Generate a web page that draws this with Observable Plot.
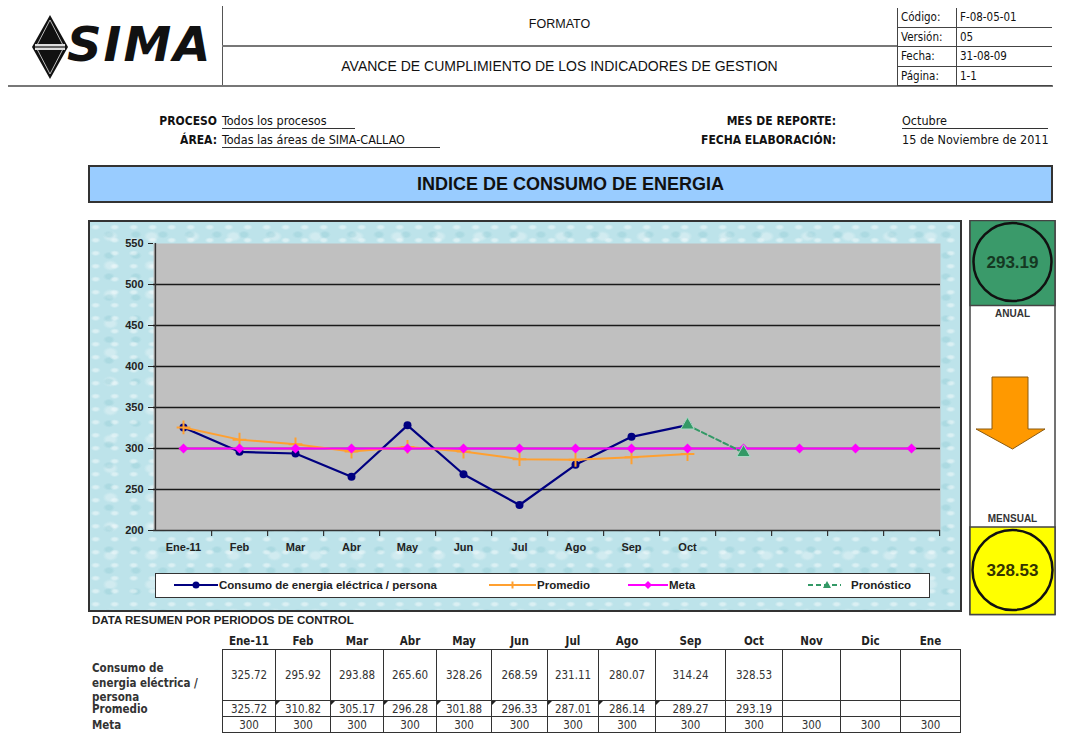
<!DOCTYPE html>
<html><head><meta charset="utf-8">
<script src="https://cdn.jsdelivr.net/npm/d3@7"></script>
<script src="https://cdn.jsdelivr.net/npm/@observablehq/plot@0.6"></script>
<style>
html,body{margin:0;padding:0;background:#fff;}
#page{position:relative;width:1071px;height:745px;overflow:hidden;font-family:"Liberation Sans",Arial,sans-serif;color:#111;}
.abs{position:absolute;}
.narrow{font-family:"Liberation Sans Narrow","Arial Narrow","DejaVu Sans Condensed",sans-serif;}
.lbl{font-weight:bold;font-size:12px;white-space:nowrap;}
.val{font-size:12.5px;white-space:nowrap;}
.uline{position:absolute;height:1px;background:#333;}
#codes{border-collapse:collapse;font-size:11.5px;}
#codes td{height:18.5px;padding:0 0 0 3px;border-bottom:1px solid #444;border-left:1px solid #444;line-height:16px;}
#tabla{border-collapse:collapse;table-layout:fixed;font-size:11.5px;}
#tabla td{text-align:center;padding:0;border:1px solid #333;color:#333;}
#tabla th{font-weight:bold;font-size:11.5px;height:17px;padding:0;border:none;color:#222;}
#tabla td.flag{position:relative;}
#tabla td.flag::before{content:"";position:absolute;left:0;top:0;border-top:4px solid #222;border-right:4px solid transparent;}
#frame{background-color:#bde3ea;
  background-image:
    radial-gradient(ellipse at 30% 40%, rgba(255,255,255,.45) 0 2px, transparent 5px),
    radial-gradient(ellipse at 70% 60%, rgba(140,200,210,.35) 0 3px, transparent 6px),
    radial-gradient(ellipse at 50% 50%, rgba(255,255,255,.3) 0 4px, transparent 8px);
  background-size:19px 13px, 27px 21px, 41px 29px;}
#legend{position:absolute;left:155px;top:573px;width:775px;height:25px;background:#fff;border:1.5px solid #333;box-sizing:border-box;font-weight:bold;font-size:11.5px;color:#222;}
#legend .it{position:absolute;top:0;height:22px;display:flex;align-items:center;white-space:nowrap;}
</style></head>
<body><div id="page">

<!-- logo -->
<svg class="abs" style="left:30px;top:14px" width="40" height="66">
  <polygon points="20,1 38,33 20,65 2,33" fill="#111"/>
  <polygon points="20,6 34,33 20,60 6,33" fill="none" stroke="#bbb" stroke-width="1"/>
  <rect x="5" y="30" width="30" height="6" fill="#ddd"/>
  <line x1="5" y1="33" x2="35" y2="33" stroke="#111" stroke-width="1.2"/>
</svg>
<div class="abs" style="left:67px;top:20px;font-family:'DejaVu Sans',sans-serif;font-weight:bold;font-style:italic;font-size:48px;line-height:48px;letter-spacing:2px;color:#111;">SIMA</div>

<div class="abs" style="left:222px;top:6px;width:1px;height:80px;background:#555"></div>
<div class="abs" style="left:222px;top:45px;width:675px;height:2px;background:#777"></div>
<div class="abs" style="left:8px;top:85px;width:1045px;height:2px;background:#777"></div>
<div class="abs" style="left:222px;top:17px;width:675px;text-align:center;font-size:12.5px;">FORMATO</div>
<div class="abs" style="left:222px;top:58px;width:675px;text-align:center;font-size:14px;">AVANCE DE CUMPLIMIENTO DE LOS INDICADORES DE GESTION</div>
<table id="codes" class="abs narrow" style="left:897px;top:8px;">
  <tr><td style="width:55px">Código:</td><td style="width:92px">F-08-05-01</td></tr>
  <tr><td>Versión:</td><td>05</td></tr>
  <tr><td>Fecha:</td><td>31-08-09</td></tr>
  <tr><td>Página:</td><td>1-1</td></tr>
</table>

<!-- info -->
<div class="abs lbl narrow" style="right:854px;top:114px;">PROCESO</div>
<div class="abs val narrow" style="left:222px;top:113px;">Todos los procesos</div>
<div class="uline" style="left:222px;top:128px;width:133px"></div>
<div class="abs lbl narrow" style="right:854px;top:133px;">ÁREA:</div>
<div class="abs val narrow" style="left:222px;top:132px;">Todas las áreas de SIMA-CALLAO</div>
<div class="uline" style="left:222px;top:147px;width:218px"></div>
<div class="abs lbl narrow" style="right:235px;top:114px;">MES DE REPORTE:</div>
<div class="abs lbl narrow" style="right:235px;top:133px;">FECHA ELABORACIÓN:</div>
<div class="abs val narrow" style="left:902px;top:113px;">Octubre</div>
<div class="uline" style="left:902px;top:128px;width:146px"></div>
<div class="abs val narrow" style="left:902px;top:132px;">15 de Noviembre de 2011</div>

<!-- title bar -->
<div class="abs" style="left:88px;top:165px;width:965px;height:38px;background:#99ccff;border:2px solid #333;box-sizing:border-box;display:flex;align-items:center;justify-content:center;font-weight:bold;font-size:18px;color:#111;">INDICE DE CONSUMO DE ENERGIA</div>

<!-- chart frame -->
<div id="frame" class="abs" style="left:88px;top:220px;width:874px;height:392px;border:2px solid #333;box-sizing:border-box;"></div>
<div id="chart" class="abs" style="left:88px;top:220px;"></div>
<div id="legend"></div>

<!-- right panel -->
<svg id="panel" class="abs" style="left:969px;top:220px" width="88" height="396"></svg>

<!-- table -->
<div class="abs" style="left:92px;top:614px;font-weight:bold;font-size:11.5px;color:#222;">DATA RESUMEN POR PERIODOS DE CONTROL</div>
<div class="abs lbl narrow" style="left:92px;top:661px;line-height:14.5px;font-size:11.5px;color:#333">Consumo de<br>energia eléctrica /<br>persona</div>
<div class="abs lbl narrow" style="left:92px;top:702px;font-size:11.5px;color:#333">Promedio</div>
<div class="abs lbl narrow" style="left:92px;top:718px;font-size:11.5px;color:#333">Meta</div>
<table id="tabla" class="abs narrow" style="left:222px;top:632px;"></table>

</div>
<script>
// ---- data ----
const meses = ["Ene-11","Feb","Mar","Abr","May","Jun","Jul","Ago","Sep","Oct","Nov","Dic","Ene"];
const etiquetasEje = ["Ene-11","Feb","Mar","Abr","May","Jun","Jul","Ago","Sep","Oct","","","",""];
const consumo = [325.72,295.92,293.88,265.60,328.26,268.59,231.11,280.07,314.24,328.53];
const promedio = [325.72,310.82,305.17,296.28,301.88,296.33,287.01,286.14,289.27,293.19];
const meta = [300,300,300,300,300,300,300,300,300,300,300,300,300,300];
const pronostico = [null,null,null,null,null,null,null,null,null,328.53,295,null,null,null];
const yTicks = [200,250,300,350,400,450,500,550];
const leyenda = ["Consumo de energia eléctrica / persona","Promedio","Meta","Pronóstico"];
const indicadorAnual = promedio[promedio.length-1];
const indicadorMensual = consumo[consumo.length-1];

// ---- chart ----
const W = 874, H = 392, ml = 65, mr = 22, mt = 23, mb = 82;
const step = (W - ml - mr) / etiquetasEje.length;
const pts = a => a.map((v,i)=>({i, v})).filter(d => d.v != null);
const C = pts(consumo), P = pts(promedio), M = pts(meta), F = pts(pronostico);
const colors = {consumo:"#000080", promedio:"#ffa030", meta:"#ff00ff", pron:"#339966"};

const chart = Plot.plot({
  width: W, height: H,
  marginLeft: ml, marginRight: mr, marginTop: mt, marginBottom: mb,
  style: {background:"transparent", fontFamily:"'Liberation Sans',Arial,sans-serif", fontWeight:"bold", fontSize:"11px", color:"#222", overflow:"visible"},
  x: {type:"point", domain: d3.range(etiquetasEje.length), padding:0.5, tickSize:0, tickPadding:13, tickFormat: i => etiquetasEje[i], label:null},
  y: {domain:[yTicks[0], yTicks[yTicks.length-1]], ticks: yTicks, tickSize:5, tickPadding:5, label:null},
  marks: [
    Plot.frame({fill:"#c0c0c0", stroke:null}),
    Plot.ruleY(yTicks.slice(1,-1), {stroke:"#1a1a1a", strokeWidth:1.3}),
    Plot.ruleY([yTicks[0]], {stroke:"#333", strokeWidth:1.5}),
    Plot.ruleX([0], {dx:-step/2, stroke:"#333", strokeWidth:1.5}),
    Plot.ruleX(d3.range(etiquetasEje.length), {x:d=>d, dx:step/2, y1:yTicks[0], y2:yTicks[0], insetBottom:-6, stroke:"#333", strokeWidth:1.2}),
    Plot.line(C, {x:"i", y:"v", stroke:colors.consumo, strokeWidth:2.2}),
    Plot.dot(C, {x:"i", y:"v", r:4, fill:colors.consumo}),
    Plot.line(P, {x:"i", y:"v", stroke:colors.promedio, strokeWidth:2}),
    Plot.dot(P, {x:"i", y:"v", symbol:"plus", r:4.5, stroke:colors.promedio, strokeWidth:2}),
    Plot.line(M, {x:"i", y:"v", stroke:colors.meta, strokeWidth:2}),
    Plot.dot(M, {x:"i", y:"v", symbol:"diamond2", r:4.5, fill:colors.meta}),
    Plot.line(F, {x:"i", y:"v", stroke:colors.pron, strokeWidth:2, strokeDasharray:"5,3"}),
    Plot.dot(F, {x:"i", y:"v", symbol:"triangle", r:5, fill:colors.pron, stroke:"#a8d8c4", strokeWidth:1})
  ]
});
document.getElementById("chart").appendChild(chart);

// ---- legend ----
const legendItems = [
  {left:18, w:44, txt:leyenda[0], sw:`<line x1="0" y1="6" x2="44" y2="6" stroke="${colors.consumo}" stroke-width="2"/><circle cx="22" cy="6" r="3.5" fill="${colors.consumo}"/>`},
  {left:333, w:47, txt:leyenda[1], sw:`<line x1="0" y1="6" x2="47" y2="6" stroke="${colors.promedio}" stroke-width="2"/><path d="M20,6h7M23.5,2.5v7" stroke="${colors.promedio}" stroke-width="2"/>`},
  {left:472, w:40, txt:leyenda[2], sw:`<line x1="0" y1="6" x2="40" y2="6" stroke="${colors.meta}" stroke-width="2"/><path d="M20,2l4,4l-4,4l-4,-4z" fill="${colors.meta}"/>`},
  {left:652, w:33, txt:leyenda[3], sw:`<line x1="0" y1="6" x2="33" y2="6" stroke="${colors.pron}" stroke-width="2" stroke-dasharray="5,3"/><path d="M19,2l4,7h-8z" fill="${colors.pron}"/>`}
];
const lg = document.getElementById("legend");
legendItems.forEach(it => {
  const d = document.createElement("div");
  d.className = "it"; d.style.left = it.left + "px";
  d.innerHTML = `<svg width="${it.w}" height="12" style="margin-right:${it.txt===leyenda[3]?10:1}px">${it.sw}</svg><span>${it.txt}</span>`;
  lg.appendChild(d);
});

// ---- right panel ----
const panel = document.getElementById("panel");
panel.innerHTML = `
  <rect x="1" y="0.5" width="85" height="394" fill="#fff" stroke="#444" stroke-width="1.5"/>
  <rect x="1" y="0.5" width="85" height="85" fill="#3a9a6a" stroke="#444" stroke-width="1.5"/>
  <circle cx="43.5" cy="42" r="39" fill="#3a9a6a" stroke="#111" stroke-width="2.5"/>
  <text x="43.5" y="42" dy="0.36em" text-anchor="middle" font-family="Liberation Sans, Arial" font-weight="bold" font-size="17" fill="#153822">${indicadorAnual.toFixed(2)}</text>
  <text x="43.5" y="93" dy="0.36em" text-anchor="middle" font-family="Liberation Sans, Arial" font-weight="bold" font-size="10" fill="#333">ANUAL</text>
  <polygon points="23,157 59,157 59,209 76,209 43.5,229 7,209 23,209" fill="#ff9900" stroke="#8a5a10" stroke-width="1"/>
  <text x="43.5" y="298" dy="0.36em" text-anchor="middle" font-family="Liberation Sans, Arial" font-weight="bold" font-size="10" fill="#333">MENSUAL</text>
  <rect x="1" y="307" width="85" height="87.5" fill="#ffff00" stroke="#444" stroke-width="1.5"/>
  <circle cx="43.5" cy="350" r="40" fill="#ffff00" stroke="#111" stroke-width="2.5"/>
  <text x="43.5" y="350" dy="0.36em" text-anchor="middle" font-family="Liberation Sans, Arial" font-weight="bold" font-size="17" fill="#333300">${indicadorMensual.toFixed(2)}</text>`;

// ---- table ----
const colW = [53,55,53,53,55,56,51,57,70,57,58,60,60];
const tabla = document.getElementById("tabla");
let html = "<colgroup>" + colW.map(w=>`<col style="width:${w}px">`).join("") + "</colgroup>";
html += "<tr>" + meses.map(m=>`<th>${m}</th>`).join("") + "</tr>";
html += `<tr style="height:51px">` + meses.map((m,i)=>`<td>${consumo[i]!=null?consumo[i].toFixed(2):""}</td>`).join("") + "</tr>";
html += `<tr style="height:16px">` + meses.map((m,i)=>`<td class="${i>0&&i<9?'flag':''}">${promedio[i]!=null?promedio[i].toFixed(2):""}</td>`).join("") + "</tr>";
html += `<tr style="height:16px">` + meses.map((m,i)=>`<td>${meta[i]}</td>`).join("") + "</tr>";
tabla.innerHTML = html;
tabla.style.width = colW.reduce((a,b)=>a+b,0) + "px";
</script>
</body></html>
